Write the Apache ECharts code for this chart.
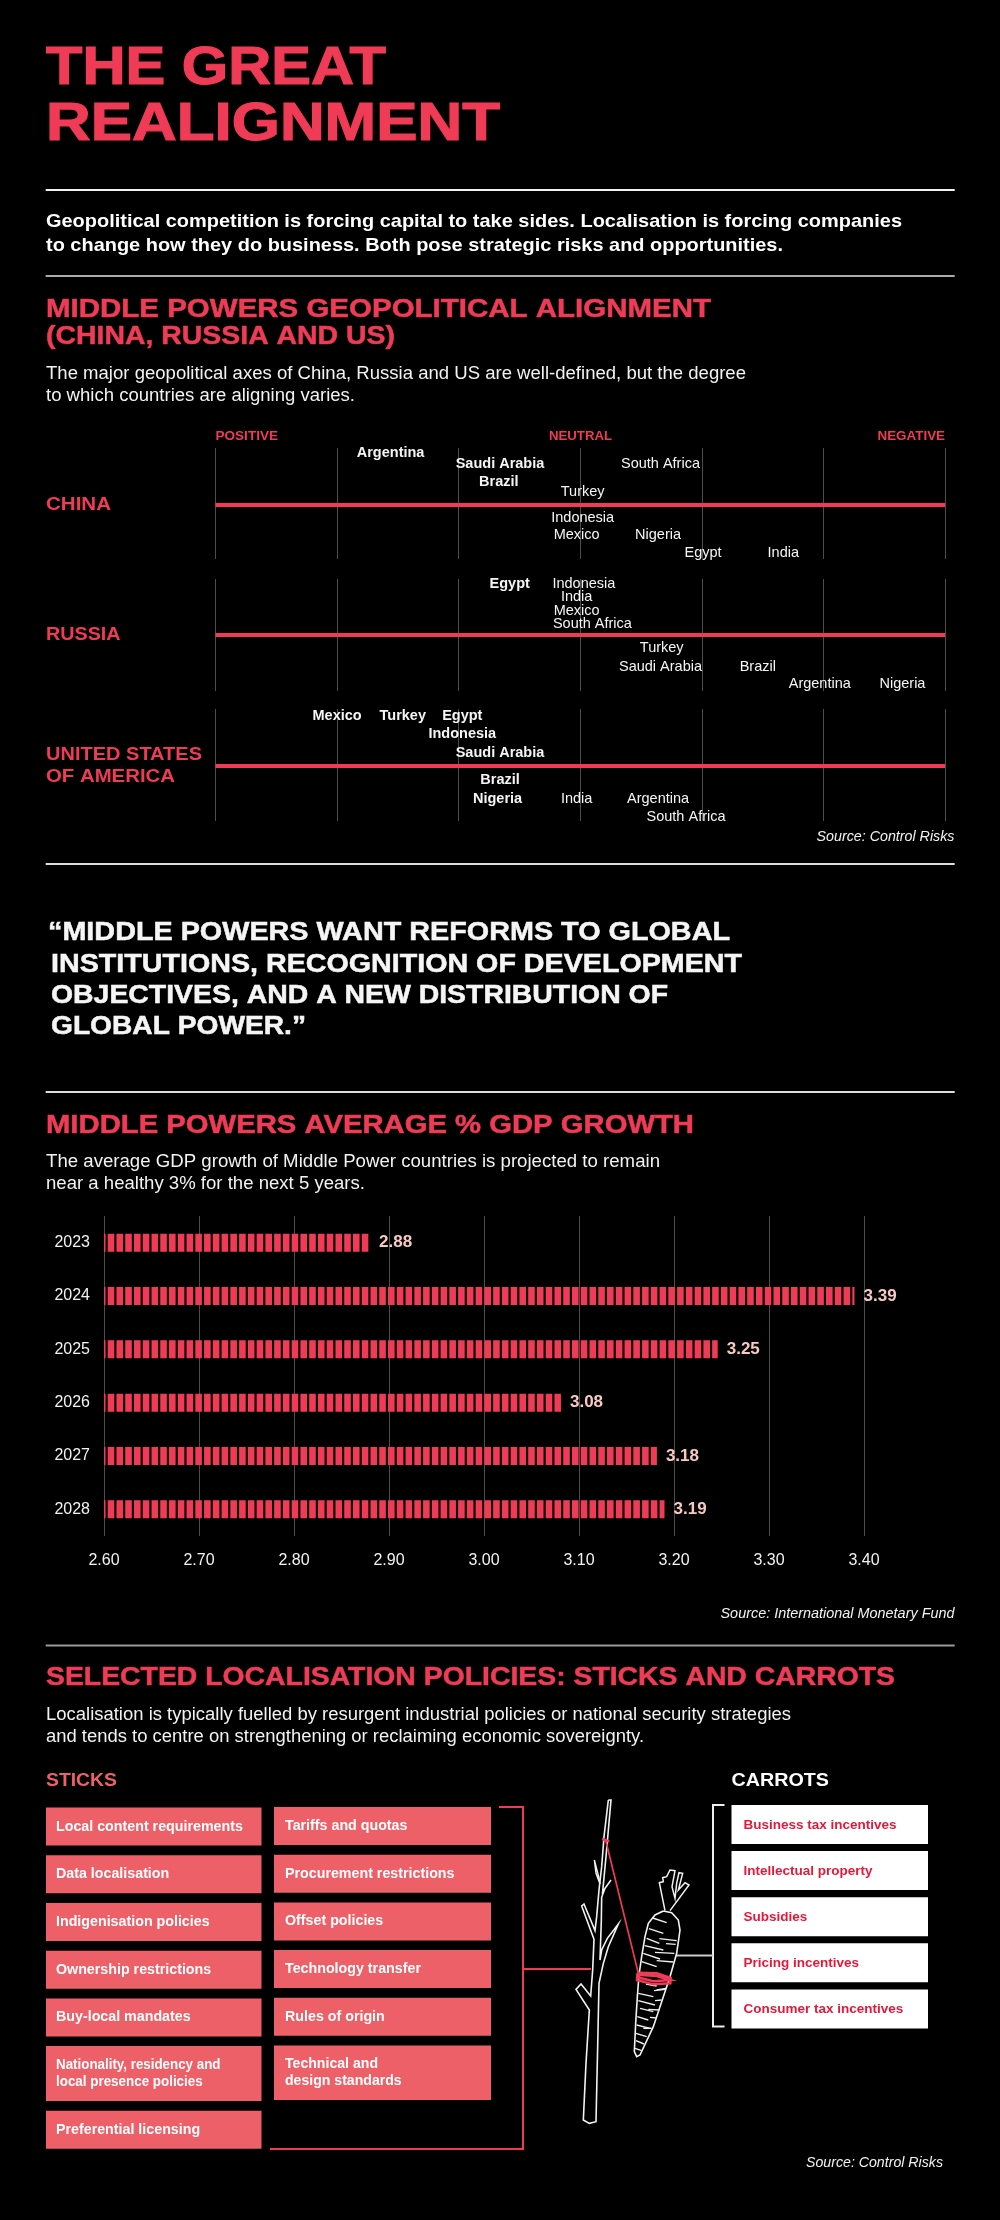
<!DOCTYPE html>
<html>
<head>
<meta charset="utf-8">
<title>The Great Realignment</title>
<script src="https://cdn.jsdelivr.net/npm/echarts@6/dist/echarts.min.js"></script>
<style>
html,body{margin:0;padding:0;background:#000;}
#main{width:1000px;height:2220px;}
</style>
</head>
<body>
<div id="main"></div>
<script>
// alignment scores: -3 positive, 0 neutral, +3 negative
var chinaNames=['Argentina','Saudi Arabia','South Africa','Brazil','Turkey','Indonesia','Mexico','Nigeria','Egypt','India'];
var chinaScores=[-1.56,-0.66,0.66,-0.67,0.02,0.02,-0.03,0.64,1.01,1.67];
var chinaLevels=[52,41,41,23.5,13.5,-12.5,-29.5,-29.5,-47.5,-47.5];
var russiaNames=['Egypt','Indonesia','India','Mexico','South Africa','Turkey','Saudi Arabia','Brazil','Argentina','Nigeria'];
var russiaScores=[-0.58,0.03,-0.03,-0.03,0.1,0.67,0.66,1.46,1.97,2.65];
var russiaLevels=[51.5,51.5,38,24.5,11.5,-12.5,-31.5,-31.5,-48.5,-48.5];
var usNames=['Mexico','Turkey','Egypt','Indonesia','Saudi Arabia','Brazil','Nigeria','India','Argentina','South Africa'];
var usScores=[-2,-1.46,-0.97,-0.97,-0.66,-0.66,-0.68,-0.03,0.64,0.87];
var usLevels=[50.5,50.5,50.5,32,13.5,-13.5,-33,-33,-33,-51];

var gdpYears=['2023','2024','2025','2026','2027','2028'];
var gdpValues=[2.88,3.39,3.246,3.081,3.182,3.19];

var sticksLeft=['Local content requirements','Data localisation','Indigenisation policies','Ownership restrictions','Buy-local mandates',['Nationality, residency and','local presence policies'],'Preferential licensing'];
var sticksRight=['Tariffs and quotas','Procurement restrictions','Offset policies','Technology transfer','Rules of origin',['Technical and','design standards']];
var carrots=['Business tax incentives','Intellectual property','Subsidies','Pricing incentives','Consumer tax incentives'];

var RED='#f03b56', FONT='"Liberation Sans"';
var measure=document.createElement('canvas').getContext('2d');
var g=[];

// text by baseline; w = width to squeeze or stretch the line to, heavy = extra outline
function txt(s,x,base,size,weight,color,w,align,italic,heavy){
	var font=(italic?'italic ':'')+weight+' '+size+'px '+FONT;
	measure.font=font;
	var sx=w?w/measure.measureText(s).width:1;
	var st={text:s,font:font,fill:color,textAlign:align||'left',textVerticalAlign:'middle',align:align||'left',verticalAlign:'middle'};
	if(heavy){
		st.stroke=color;
		st.lineWidth=heavy;
	}
	g.push({type:'text',x:x,y:base-0.3465*size,scaleX:sx,silent:true,z:10,style:st});
}
function rule(y,color,h){
	g.push({type:'rect',shape:{x:45.7,y:y-(h||2)/2,width:909,height:h||2},style:{fill:color},silent:true});
}
function line(pts,color,lw){
	g.push({type:'polyline',shape:{points:pts},style:{stroke:color,fill:null,lineWidth:lw},silent:true,z:6});
}
function box(x,y,w,h,color,textColor,label,tx,size){
	g.push({type:'rect',shape:{x:x,y:y,width:w,height:h},style:{fill:color},silent:true,z:5});
	var cy=y+h/2;
	if(label instanceof Array){
		txt(label[0],tx,cy-8.5+5,size,'bold',textColor,label[2]);
		txt(label[1],tx,cy+8.5+5,size,'bold',textColor,label[3]);
	}else{
		txt(label,tx,cy+5,size,'bold',textColor);
	}
}
// drawing units are 1/3 px from the sketch origin
function sketch(pts,color,lw){
	var out=[];
	for(var i=0;i<pts.length;i++){
		out.push([500+pts[i][0]/3,1780+pts[i][1]/3]);
	}
	line(out,color,lw);
}

// header
txt('THE GREAT',46,88,54,'bold',RED,340,'left',false,1.2);
txt('REALIGNMENT',46,144,54,'bold',RED,454,'left',false,1.2);
rule(190,'#f2f2f2');
txt('Geopolitical competition is forcing capital to take sides. Localisation is forcing companies',46,228,19,'bold','#fff',856);
txt('to change how they do business. Both pose strategic risks and opportunities.',46,252,19,'bold','#fff',737);
rule(276,'#aaa');

// section 1
txt('MIDDLE POWERS GEOPOLITICAL ALIGNMENT',46,319,26.5,'bold',RED,665,'left',false,0.5);
txt('(CHINA, RUSSIA AND US)',46,346,26.5,'bold',RED,349,'left',false,0.5);
txt('The major geopolitical axes of China, Russia and US are well-defined, but the degree',46,380,17.5,'normal','#f2f2f2',700);
txt('to which countries are aligning varies.',46,402,17.5,'normal','#f2f2f2',309);
txt('POSITIVE',215.5,441,12.5,'bold',RED,62.5);
txt('NEUTRAL',580.5,441,12.5,'bold',RED,63,'center');
txt('NEGATIVE',945,441,12.5,'bold',RED,67.5,'right');
txt('CHINA',46,511.5,18,'bold',RED,65);
txt('RUSSIA',46,641.5,18,'bold',RED,74.5);
txt('UNITED STATES',46,761.5,18,'bold',RED,156);
txt('OF AMERICA',46,783.5,18,'bold',RED,129);
txt('Source: Control Risks',954.5,842,14,'normal','#f2f2f2',138,'right',true);
rule(864,'#ddd');

// quote
txt('\u201cMIDDLE POWERS WANT REFORMS TO GLOBAL',48,942,25.5,'bold','#f5f5f5',682,'left',false,0.5);
txt('INSTITUTIONS, RECOGNITION OF DEVELOPMENT',51,973.5,25.5,'bold','#f5f5f5',691,'left',false,0.5);
txt('OBJECTIVES, AND A NEW DISTRIBUTION OF',51,1005,25.5,'bold','#f5f5f5',617,'left',false,0.5);
txt('GLOBAL POWER.\u201d',51,1036,25.5,'bold','#f5f5f5',255,'left',false,0.5);
rule(1092,'#ddd');

// section 2
txt('MIDDLE POWERS AVERAGE % GDP GROWTH',46,1135,26.5,'bold',RED,648,'left',false,0.5);
txt('The average GDP growth of Middle Power countries is projected to remain',46,1168,17.5,'normal','#f2f2f2',614);
txt('near a healthy 3% for the next 5 years.',46,1190.5,17.5,'normal','#f2f2f2',319);
txt('Source: International Monetary Fund',954.5,1619,14,'normal','#f2f2f2',234,'right',true);
rule(1645.5,'#999');

// section 3
txt('SELECTED LOCALISATION POLICIES: STICKS AND CARROTS',46,1687,26.5,'bold',RED,849,'left',false,0.5);
txt('Localisation is typically fuelled by resurgent industrial policies or national security strategies',46,1721,17.5,'normal','#f2f2f2',745);
txt('and tends to centre on strengthening or reclaiming economic sovereignty.',46,1743,17.5,'normal','#f2f2f2',598);
txt('STICKS',46,1787,18,'bold','#ee6068',71);
txt('CARROTS',731.5,1787,18,'bold','#fff',97.5);

var i,y,lbl;
y=1807.6;
for(i=0;i<sticksLeft.length;i++){
	lbl=sticksLeft[i];
	var hL=lbl instanceof Array?55:38;
	box(46,y,215.5,hL,'#ee6068','#fff',hL==55?[lbl[0],lbl[1],164.5,146.7]:lbl,56,14.25);
	y+=hL+9.7;
}
y=1807;
for(i=0;i<sticksRight.length;i++){
	lbl=sticksRight[i];
	var hR=lbl instanceof Array?54.6:38;
	box(274,y,217,hR,'#ee6068','#fff',hR!=38?[lbl[0],lbl[1],93,116.7]:lbl,285,14.25);
	y+=hR+9.7;
}
y=1805;
for(i=0;i<carrots.length;i++){
	box(731.5,y,196.5,39,'#fff','#e8173a',carrots[i],743.5,13.5);
	y+=46.1;
}
line([[499,1807],[523,1807],[523,2149],[270,2149]],RED,2);
line([[523,1969],[591,1969]],RED,2);
line([[724.5,1805],[713,1805],[713,2026.5],[724.5,2026.5]],'#eee',2);
line([[676,1955.5],[713,1955.5]],'#ccc',2);
txt('Source: Control Risks',943,2168,14,'normal','#f2f2f2',137,'right',true);

// stick
sketch([[325,60],[312,170],[305,260],[297,330],[290,410],[285,452],[252,372],[245,378],[282,478],[278,570],[272,648],[243,612],[228,628],[268,690],[258,850],[250,1020],[268,1030],[288,1025],[293,800],[297,610],[310,550],[325,500],[355,432],[322,475],[305,510],[300,540],[304,420],[305,352],[315,325],[333,300],[308,335],[318,230],[333,60],[325,60]],'#f2f2f2',1.6);
sketch([[283,240],[288,280],[300,312],[296,290],[283,240]],'#f2f2f2',1.4);
// carrot
sketch([[490,393],[465,405],[445,430],[435,470],[425,530],[417,585],[412,650],[407,730],[403,815],[410,830],[420,825],[460,740],[490,650],[510,590],[530,520],[540,450],[535,420],[515,398],[490,393]],'#f2f2f2',1.6);
sketch([[495,392],[478,308],[490,305],[488,293],[500,290],[510,270],[525,272],[516,320],[525,355],[530,310],[537,278],[548,280],[535,330],[555,308],[567,315],[510,392]],'#f2f2f2',1.5);
var hatches=[[458,414,500,428],[447,446,490,460],[440,475,478,490],[478,476,530,482],[434,497,490,510],[498,491,527,493],[430,520,480,537],[465,517,523,520],[425,545,470,560],[470,542,520,546],[438,612,470,618],[470,630,498,625],[415,640,460,650],[462,632,495,628],[415,662,465,675],[420,685,460,695],[465,662,485,660],[412,710,445,720],[445,688,478,690],[410,735,450,745],[450,712,470,714],[408,760,440,770],[408,782,432,792],[430,745,455,745],[405,805,425,812]];
for(i=0;i<hatches.length;i++){
	sketch([[hatches[i][0],hatches[i][1]],[hatches[i][2],hatches[i][3]]],'#f2f2f2',1.4);
}
// string
sketch([[317,180],[415,580]],RED,1.7);
sketch([[306,177],[328,184]],RED,2.4);
sketch([[412,578],[470,580],[512,594],[511,610],[460,613],[411,600],[412,584],[470,588],[511,600],[460,604],[412,592]],RED,2.5);

// striped bar fill, 100 periods so the fraction in the pitch stays true
function stripes(){
	var pitch=8.76, c=document.createElement('canvas');
	c.width=876;c.height=4;
	var ctx=c.getContext('2d');
	ctx.fillStyle=RED;
	for(var k=-1;k<100;k++){
		ctx.fillRect(2.58+k*pitch,0,6.6,4);
	}
	return c;
}

function scatterData(names,scores,levels){
	var out=[];
	for(var k=0;k<names.length;k++){
		out.push({name:names[k],value:[scores[k],levels[k]],label:{fontWeight:scores[k]<-0.2?'bold':'normal'}});
	}
	return out;
}
function rowX(idx){
	return {gridIndex:idx,type:'value',min:-3,max:3,interval:1,
		axisLine:{show:true,onZero:true,lineStyle:{color:RED,width:4,cap:'butt'}},
		axisTick:{show:false},axisLabel:{show:false},
		splitLine:{show:true,lineStyle:{color:'#4d4d4d',width:1}}};
}
function rowY(idx,lo,hi){
	return {gridIndex:idx,type:'value',min:lo,max:hi,show:false,splitLine:{show:false}};
}
function rowSeries(idx,names,scores,levels){
	return {type:'scatter',xAxisIndex:idx,yAxisIndex:idx,symbolSize:0,silent:true,z:4,
		itemStyle:{opacity:1},
		data:scatterData(names,scores,levels),
		label:{show:true,position:'inside',formatter:'{b}',color:'#f5f5f5',fontFamily:FONT,fontSize:14.5}};
}

var chart=echarts.init(document.getElementById('main'));
chart.setOption({
	backgroundColor:'#000',
	animation:false,
	graphic:{elements:g},
	grid:[
		{left:215.5,width:729.5,top:448,height:111},
		{left:215.5,width:729.5,top:579,height:112},
		{left:215.5,width:729.5,top:709,height:112},
		{left:104,width:760,top:1216,height:320}
	],
	xAxis:[
		rowX(0),rowX(1),rowX(2),
		{gridIndex:3,type:'value',min:2.6,max:3.4,interval:0.1,
			axisLine:{show:false},axisTick:{show:false},
			axisLabel:{color:'#f2f2f2',fontFamily:FONT,fontSize:16,margin:17,formatter:function(v){return v.toFixed(2);}},
			splitLine:{show:true,lineStyle:{color:'#4d4d4d',width:1}}}
	],
	yAxis:[
		rowY(0,-54,57),rowY(1,-56,56),rowY(2,-55,57),
		{gridIndex:3,type:'category',inverse:true,data:gdpYears,
			axisLine:{show:false},axisTick:{show:false},
			axisLabel:{color:'#f2f2f2',fontFamily:FONT,fontSize:16,margin:14}}
	],
	series:[
		rowSeries(0,chinaNames,chinaScores,chinaLevels),
		rowSeries(1,russiaNames,russiaScores,russiaLevels),
		rowSeries(2,usNames,usScores,usLevels),
		{type:'bar',xAxisIndex:3,yAxisIndex:3,silent:true,z:3,
			data:gdpValues,barWidth:18,
			itemStyle:{color:{image:stripes(),repeat:'repeat'}},
			label:{show:true,position:'right',distance:9,color:'#f8c9c2',fontFamily:FONT,fontWeight:'bold',fontSize:17,
				formatter:function(p){return p.value.toFixed(2);}}}
	]
});
</script>
</body>
</html>
